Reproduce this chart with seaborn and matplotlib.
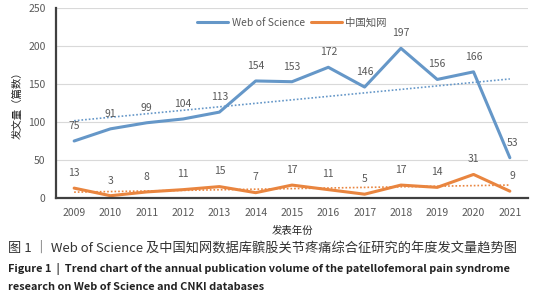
import numpy as np
import matplotlib
matplotlib.use("Agg")
import matplotlib.pyplot as plt
import seaborn as sns
import pandas as pd

years = [2009, 2010, 2011, 2012, 2013, 2014, 2015, 2016, 2017, 2018, 2019, 2020, 2021]
wos = [75, 91, 99, 104, 113, 154, 153, 172, 146, 197, 156, 166, 53]
cnki = [13, 3, 8, 11, 15, 7, 17, 11, 5, 17, 14, 31, 9]
series_names = ["Web of Science", "中国知网"]
colors = ["#6597C8", "#E9853F"]

sns.set_style("white")
plt.rcParams['font.family'] = ['Noto Sans CJK SC', 'DejaVu Sans']

df = pd.DataFrame({"year": list(range(len(years))) * 2,
                   "value": wos + cnki,
                   "series": [series_names[0]] * len(years) + [series_names[1]] * len(years)})

fig = plt.figure(figsize=(5.52, 3.0), dpi=100)
ax = fig.add_axes([56 / 552, 1 - 198 / 300, (528 - 56) / 552, 190 / 300])

sns.lineplot(data=df, x="year", y="value", hue="series", palette=colors,
             linewidth=2.2, ax=ax, legend=True)

# linear trend lines (dotted)
x = np.arange(len(years))
for vals, c in zip([wos, cnki], colors):
    k, b = np.polyfit(x, vals, 1)
    ax.plot(x, k * x + b, linestyle=(0, (1, 1.2)), color=c, linewidth=1.2)

# data labels
for vals in [wos, cnki]:
    for i, v in enumerate(vals):
        ax.text(i + (0.08 if i == len(vals) - 1 else 0), v + 20, str(v), ha="center", va="center",
                fontsize=7.5, color="#595959")

ax.set_xlim(-0.5, len(years) - 0.5)
ax.set_ylim(0, 250)
ax.set_yticks([0, 50, 100, 150, 200, 250])
ax.set_xticks(x)
ax.set_xticklabels([str(y) for y in years])
ax.set_xticks(np.arange(-0.5, len(years)), minor=True)
ax.tick_params(axis="x", which="major", length=0, labelsize=7.5, labelcolor="#595959", pad=7)
ax.tick_params(axis="x", which="minor", length=4, width=1.2, color="#404040", direction="out")
ax.tick_params(axis="y", length=4, width=1.2, color="#404040", labelsize=7.5, labelcolor="#595959", direction="out")
ax.yaxis.grid(True, color="#D9D9D9", linewidth=0.8)
ax.set_axisbelow(True)
for s in ["top", "right"]:
    ax.spines[s].set_visible(False)
ax.spines["left"].set_color("#404040")
ax.spines["left"].set_linewidth(1.6)
ax.spines["bottom"].set_color("#404040")
ax.spines["bottom"].set_linewidth(1.6)

ax.set_xlabel("发表年份", fontsize=7.5, color="#222222", labelpad=6)
ax.set_ylabel("发文量（篇数）", fontsize=7.5, color="#222222", labelpad=4)

leg = ax.legend(loc="upper center", bbox_to_anchor=(0.5, 1.0), ncol=2, frameon=False,
                fontsize=7.5, handlelength=3.0, columnspacing=0.6, handletextpad=0.3)
for t in leg.get_texts():
    t.set_color("#595959")

fig.text(8 / 552, 1 - 248 / 300, "图 1 ｜ Web of Science 及中国知网数据库髌股关节疼痛综合征研究的年度发文量趋势图",
         fontsize=9.5, color="#333333", va="center", ha="left")
fig.text(8 / 552, 1 - 269 / 300, "Figure 1  |  Trend chart of the annual publication volume of the patellofemoral pain syndrome",
         fontsize=7.9, fontweight="bold", color="#222222", va="center", ha="left")
fig.text(8 / 552, 1 - 287 / 300, "research on Web of Science and CNKI databases",
         fontsize=7.9, fontweight="bold", color="#222222", va="center", ha="left")

fig.savefig("out.png", dpi=100)
